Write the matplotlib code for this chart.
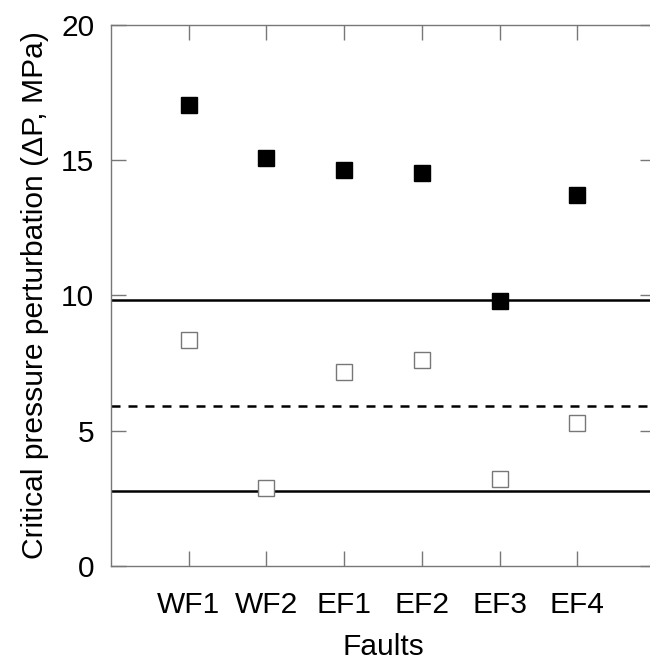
import matplotlib.pyplot as plt

plt.rcParams['font.family'] = ['Liberation Sans', 'DejaVu Sans']

faults = ['WF1', 'WF2', 'EF1', 'EF2', 'EF3', 'EF4']
# filled squares: upper critical pressure perturbation
dp_upper = [17.05, 15.08, 14.65, 14.52, 9.79, 13.70]
# open squares: lower critical pressure perturbation
dp_lower = [8.35, 2.86, 7.16, 7.61, 3.21, 5.27]
# reference lines
solid_levels = [9.83, 2.76]
dashed_level = 5.89

fig = plt.figure(figsize=(6.5, 6.66), dpi=100)
ax = fig.add_axes([0.1708, 0.1506, 0.837, 0.8119])

x = list(range(1, len(faults) + 1))
ax.plot(x, dp_upper, 's', color='black', markersize=12, zorder=5)
ax.plot(x, dp_lower, 's', markerfacecolor='white', markeredgecolor='#777777',
        markeredgewidth=1.0, markersize=11, zorder=5)

for lvl in solid_levels:
    ax.axhline(lvl, color='black', lw=1.8)
ax.axhline(dashed_level, color='black', lw=1.8, ls=(0, (3.6, 3.2)))

ax.set_xlim(0, 7)
ax.set_ylim(0, 20)
ax.set_xticks(x)
ax.set_xticklabels(faults)
ax.set_yticks([0, 5, 10, 15, 20])

for s in ax.spines.values():
    s.set_color('#777777')
    s.set_linewidth(1.0)
ax.tick_params(direction='in', length=11, width=1.0, color='#777777',
               top=True, right=True, labelsize=21.5, pad=12)
ax.tick_params(axis='x', pad=18)

ax.set_xlabel('Faults', fontsize=21.5, labelpad=10)
ax.set_ylabel('Critical pressure perturbation (ΔP, MPa)', fontsize=21.6, labelpad=9)

fig.savefig('out.png', dpi=100)
